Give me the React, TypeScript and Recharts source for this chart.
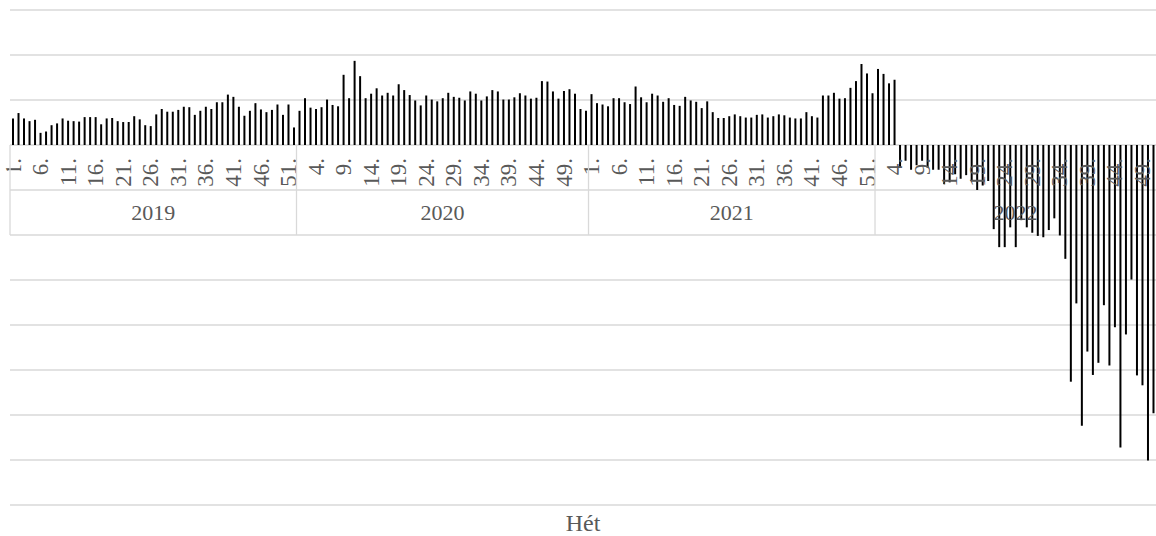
import { BarChart, Bar, XAxis, YAxis, CartesianGrid } from 'recharts'

const years = ['2019', '2020', '2021', '2022']
const v2019 = [5.9, 7.1, 5.9, 5.3, 5.6, 2.7, 3.0, 4.4, 4.8, 5.9, 5.4, 5.3, 5.2, 6.2, 6.2, 6.2, 4.6, 5.9, 6.0, 5.3, 5.1, 5.1, 6.4, 5.7, 4.4, 4.2, 6.8, 8.0, 7.4, 7.4, 7.8, 8.5, 8.4, 6.7, 7.6, 8.5, 8.0, 9.5, 9.5, 11.2, 10.7, 8.5, 6.5, 7.6, 9.3, 7.9, 7.3, 7.8, 9.0, 6.7, 9.0, 3.9]
const v2020 = [7.6, 10.4, 8.3, 8.0, 8.4, 10.1, 8.9, 8.6, 15.6, 10.4, 18.7, 15.3, 10.4, 11.4, 12.6, 11.0, 11.6, 11.0, 13.5, 12.2, 11.1, 9.9, 8.8, 11.0, 10.1, 9.7, 10.4, 11.6, 10.7, 10.5, 9.9, 11.9, 11.4, 9.9, 10.8, 12.2, 11.9, 10.1, 10.1, 10.6, 11.5, 11.0, 10.3, 10.5, 14.2, 14.1, 11.9, 10.3, 12.0, 12.4, 11.4, 8.0, 7.6]
const v2021 = [11.3, 9.3, 9.0, 8.6, 10.4, 10.4, 9.5, 9.1, 13.0, 10.6, 9.5, 11.4, 11.0, 9.6, 10.4, 8.9, 8.7, 10.7, 9.9, 9.6, 8.2, 9.7, 7.3, 6.0, 6.0, 6.4, 6.8, 6.4, 6.1, 6.1, 6.7, 6.8, 6.1, 6.4, 6.8, 6.6, 6.1, 5.9, 5.9, 7.3, 6.4, 6.1, 11.0, 11.0, 11.6, 10.3, 10.4, 12.7, 14.2, 18.0, 15.9, 11.5]
const v2022 = [16.9, 15.8, 13.7, 14.5, -5.0, -3.5, -5.5, -4.5, -3.5, -5.0, -5.5, -5.5, -8.7, -8.3, -6.5, -7.5, -6.7, -8.0, -10.0, -9.0, -8.0, -18.7, -22.7, -22.7, -18.3, -22.7, -16.7, -18.3, -19.5, -20.2, -20.5, -18.9, -16.3, -20.1, -25.3, -52.6, -35.2, -62.4, -45.9, -51.1, -48.4, -35.6, -49.0, -40.5, -67.2, -42.1, -29.9, -51.2, -53.4, -70.1, -59.6]
const yTicks = [-80, -70, -60, -50, -40, -30, -20, -10, 0, 10, 20, 30]

const series = [v2019, v2020, v2021, v2022]
const data: { key: string; year: string; week: number; n: number; value: number }[] = []
series.forEach((vals, yi) => {
  vals.forEach((v, wi) => data.push({ key: `${years[yi]}-${wi + 1}`, year: years[yi], week: wi + 1, n: vals.length, value: v }))
})
const byKey = new Map(data.map((d, i) => [d.key, { ...d, i }]))

const W = 1156
const H = 536
const margin = { top: 10, right: 0, left: 10, bottom: 0 }
const axisH = 31
const plotH = H - margin.top - margin.bottom - axisH
const plotW = W - margin.left - margin.right
const bw = plotW / data.length
const zeroY = margin.top + (plotH * 30) / 110
const rowH = plotH / 11
const font = '"Liberation Serif", "Times New Roman", serif'
const grey = '#595959'
const line = '#d9d9d9'

// category axis drawn Excel-style at the zero line: week numbers, then a year row
function CatTick(props: any) {
  const { x, payload } = props
  const d = byKey.get(payload.value)
  if (!d) return null
  const left = x - bw / 2
  const ly = zeroY + 13
  return (
    <g>
      {d.i === 0 && (
        <defs>
          <clipPath id="weekRow">
            <rect x={0} y={zeroY} width={W} height={rowH} />
          </clipPath>
        </defs>
      )}
      {d.i % 5 === 0 && (
        <text x={x} y={ly} transform={`rotate(-90, ${x}, ${ly})`} dy="0.34em" textAnchor="end" fill={grey} fontSize={23} fontFamily={font} clipPath="url(#weekRow)">
          {d.week}.
        </text>
      )}
      {d.week === 1 && (
        <>
          <line x1={left} x2={left} y1={zeroY} y2={zeroY + rowH * 2} stroke={line} strokeWidth={1.3} />
          <text x={left + (d.n * bw) / 2} y={zeroY + rowH * 1.5} dy="0.35em" textAnchor="middle" fill={grey} fontSize={22} fontFamily={font}>
            {d.year}
          </text>
        </>
      )}
    </g>
  )
}

export default function App() {
  return (
    <div style={{ position: 'absolute', left: 0, top: 0, background: '#fff' }}>
      <BarChart width={W} height={H} data={data} margin={margin} barCategoryGap={0}>
        <CartesianGrid vertical={false} stroke={line} strokeWidth={1.3} />
        <YAxis hide domain={[-80, 30]} ticks={yTicks} />
        <XAxis
          dataKey="key"
          height={axisH}
          interval={0}
          axisLine={false}
          tickLine={false}
          tick={<CatTick />}
          label={{ value: 'Hét', position: 'insideBottom', offset: 5, fill: grey, fontSize: 24, fontFamily: font }}
        />
        <Bar dataKey="value" fill="#000" barSize={2} isAnimationActive={false} />
      </BarChart>
    </div>
  )
}
